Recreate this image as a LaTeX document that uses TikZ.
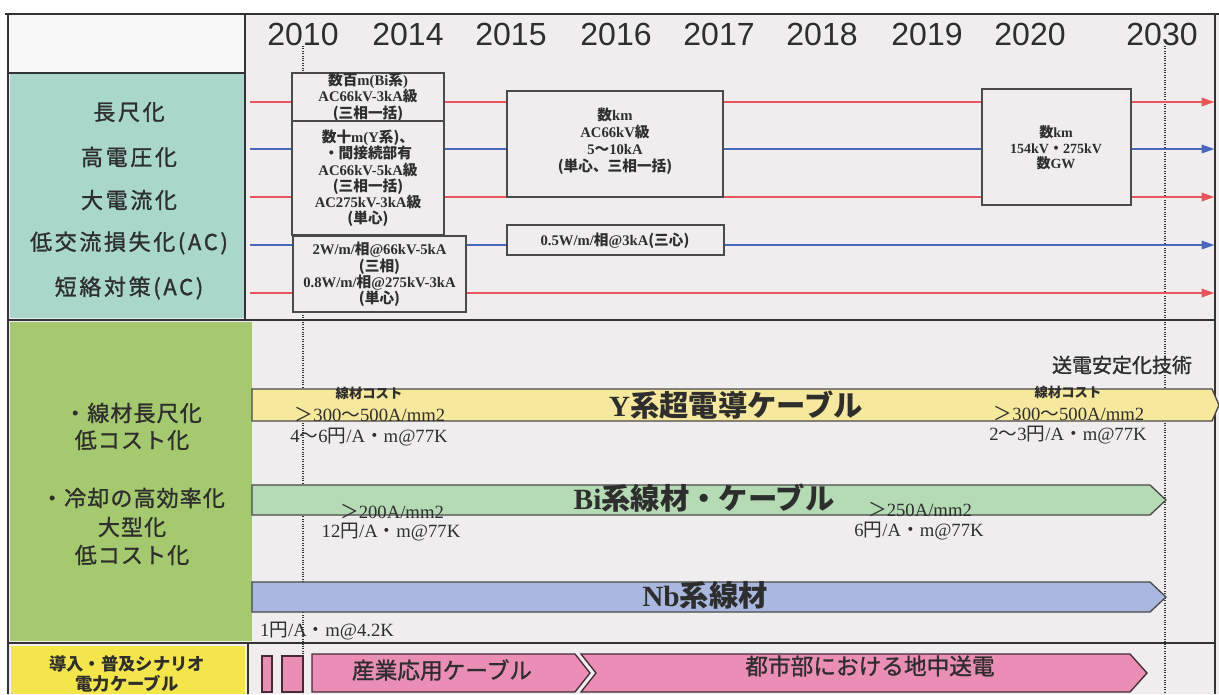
\documentclass[tikz,border=0pt]{standalone}
\usepackage{fontspec}
\setmainfont{Liberation Serif}
\newfontfamily\cjk{Noto Sans CJK JP}
\newfontfamily\cjkls[LetterSpace=12,FakeBold=1.2]{Noto Sans CJK JP}
\newfontfamily\cjkgr[LetterSpace=5,FakeBold=1.2]{Noto Sans CJK JP}
\newfontfamily\cjkmb[FakeBold=1.2]{Noto Sans CJK JP}
\newfontfamily\yrfont{Liberation Sans}
\usetikzlibrary{arrows.meta}
\newcommand\J[1]{{\cjk #1}}
\definecolor{bgc}{HTML}{EFEDED}
\definecolor{tealc}{HTML}{A9D7CB}
\definecolor{lgreen}{HTML}{A5C96E}
\definecolor{yelc}{HTML}{F4E64A}
\definecolor{ybandc}{HTML}{F6E89C}
\definecolor{gbandc}{HTML}{B5DBB5}
\definecolor{bbandc}{HTML}{A9B8DF}
\definecolor{pinkc}{HTML}{EA8EB5}
\definecolor{redl}{HTML}{E8555A}
\definecolor{bluel}{HTML}{4868BE}
\definecolor{framec}{HTML}{333333}
\definecolor{boxl}{HTML}{4A4A4A}
\definecolor{txt}{HTML}{2E2E2E}
\begin{document}
\begin{tikzpicture}[x=0.75pt,y=-0.75pt,
  frame/.style={draw=framec,line width=1pt},
  dotline/.style={draw=framec,line width=0.8pt,densely dotted},
  tl/.style={line width=2.2pt,-{Triangle[length=10pt,width=6pt]}},
  box/.style={draw=boxl,fill=bgc,line width=1pt},
  boxtxt/.style={align=center,inner sep=0pt,text=txt,font=\bfseries\fontsize{11}{12.2}\selectfont},
  lbl/.style={inner sep=0pt,text=txt,font=\cjkls\fontsize{16.5}{18}\selectfont},
  glbl/.style={inner sep=0pt,text=txt,font=\cjkgr\fontsize{16.5}{18}\selectfont},
  yr/.style={inner sep=0pt,text=txt,font=\yrfont\fontsize{24}{26}\selectfont},
  band/.style={draw=boxl,line width=1pt},
  bandtxt/.style={inner sep=0pt,text=txt,font=\bfseries\fontsize{22}{24}\selectfont},
  small/.style={inner sep=0pt,text=txt,font=\fontsize{14}{16}\selectfont},
  cost/.style={inner sep=0pt,text=txt,font=\cjk\bfseries\fontsize{10}{12}\selectfont},
  pinkbar/.style={draw=black!70!pinkc,fill=pinkc,line width=1pt},
  pinktxt/.style={inner sep=0pt,text=txt,font=\cjkmb\fontsize{17}{19}\selectfont}
]
\useasboundingbox (0,0) rectangle (1219,694);
\fill[white] (0,0) rectangle (1219,694);
\fill[bgc] (8,14) rectangle (1219,694);

% dotted year markers
\coordinate (d1a) at (303,46); \coordinate (d1b) at (303,694);
\coordinate (d2a) at (1165,46); \coordinate (d2b) at (1165,694);
\draw[dotline] (d1a) -- (d1b);
\draw[dotline] (d2a) -- (d2b);

% left column panels
\fill[white!60!bgc] (8,14) rectangle (245,73);
\fill[tealc] (10,74) rectangle (244,318);
\fill[lgreen] (10,322) rectangle (252,641);
\fill[yelc] (11,646) rectangle (245,694);

% frame lines
\draw[frame] (8,73) -- (245,73);
\draw[frame,line width=2pt] (5,14) -- (1219,14);
\draw[frame,line width=1.5pt] (8,14) -- (8,694);
\draw[frame,line width=1.5pt] (245,14) -- (245,320);
\draw[frame,line width=2pt] (8,320) -- (1215,320);
\draw[frame] (1215,14) -- (1215,694);
\draw[frame] (8,643) -- (1215,643);
\draw[frame] (248,643) -- (248,694);

% years
\node[yr] (y2010) at (303,34) {2010};
\node[yr] (y2014) at (408,34) {2014};
\node[yr] (y2015) at (511,34) {2015};
\node[yr] (y2016) at (616,34) {2016};
\node[yr] (y2017) at (719,34) {2017};
\node[yr] (y2018) at (822,34) {2018};
\node[yr] (y2019) at (927,34) {2019};
\node[yr] (y2020) at (1030,34) {2020};
\node[yr] (y2030) at (1162,34) {2030};

% teal labels
\node[lbl] (l1) at (129,112) {長尺化};
\node[lbl] (l2) at (129,157) {高電圧化};
\node[lbl] (l3) at (129,200) {大電流化};
\node[lbl] (l4) at (129,243) {低交流損失化(AC)};
\node[lbl] (l5) at (129,288) {短絡対策(AC)};

% timeline arrows
\coordinate (s1) at (250,102); \coordinate (e1) at (1215,102);
\coordinate (s2) at (250,149); \coordinate (e2) at (1215,149);
\coordinate (s3) at (250,197); \coordinate (e3) at (1215,197);
\coordinate (s4) at (250,245); \coordinate (e4) at (1215,245);
\coordinate (s5) at (250,293); \coordinate (e5) at (1215,293);
\draw[tl,redl] (s1) -- (e1);
\draw[tl,bluel] (s2) -- (e2);
\draw[tl,redl] (s3) -- (e3);
\draw[tl,bluel] (s4) -- (e4);
\draw[tl,redl] (s5) -- (e5);

% boxes
\draw[box] (292,73) rectangle (444,121);
\node[boxtxt] (tA) at (368,97) {\J{数百}m(Bi\J{系})\\AC66kV-3kA\J{級}\\\J{(三相一括)}};
\draw[box] (292,121) rectangle (444,235);
\node[boxtxt] (tB) at (368,178.5) {\J{数十}m(Y\J{系)、}\\\J{・間接続部有}\\AC66kV-5kA\J{級}\\\J{(三相一括)}\\AC275kV-3kA\J{級}\\\J{(単心)}};
\draw[box] (293,236) rectangle (466,312);
\node[boxtxt] (tC) at (379.5,274.5) {2W/m/\J{相}@66kV-5kA\\\J{(三相)}\\0.8W/m/\J{相}@275kV-3kA\\\J{(単心)}};
\draw[box] (507,91) rectangle (723,197);
\node[boxtxt,font=\bfseries\fontsize{11}{12.8}\selectfont] (tD) at (615,141) {\J{数}km\\AC66kV\J{級}\\5\J{～}10kA\\\J{(単心、三相一括)}};
\draw[box] (507,225) rectangle (724,255);
\node[boxtxt] (tE) at (615,241) {0.5W/m/\J{相}@3kA\J{(三心)}};
\draw[box] (982,89) rectangle (1131,205);
\node[boxtxt,font=\bfseries\fontsize{10.5}{11.5}\selectfont] (tF) at (1056,148) {\J{数}km\\154kV\J{・}275kV\\\J{数}GW};

% green panel labels
\node[glbl] (g1) at (133,413) {・線材長尺化};
\node[glbl] (g2) at (132,440) {低コスト化};
\node[glbl] (g3) at (133,498) {・冷却の高効率化};
\node[glbl] (g4) at (132,527) {大型化};
\node[glbl] (g5) at (132,555) {低コスト化};

% bands
\draw[band,fill=ybandc] (252,389) -- (1212,389) -- (1219,405) -- (1212,421) -- (252,421) -- cycle;
\draw[band,fill=gbandc] (252,485) -- (1150,485) -- (1166,500) -- (1150,515) -- (252,515) -- cycle;
\draw[band,fill=bbandc] (252,582) -- (1150,582) -- (1166,597) -- (1150,612) -- (252,612) -- cycle;
\node[bandtxt] (bY) at (736,405) {Y\J{系超電導ケーブル}};
\node[bandtxt] (bB) at (704,498) {Bi\J{系線材・ケーブル}};
\node[bandtxt] (bN) at (705,595) {Nb\J{系線材}};

\node[inner sep=0pt,text=txt,font=\cjkmb\fontsize{15}{17}\selectfont] (stab) at (1122,365) {送電安定化技術};
\node[cost] (c1) at (369,393) {線材コスト};
\node[small] (c1a) at (370,414) {\J{＞}300\J{～}500A/mm2};
\node[small] (c1b) at (369,437) {4\J{～}6\J{円}/A\J{・}m@77K};
\node[cost] (c2) at (1068,392) {線材コスト};
\node[small] (c2a) at (1069,413) {\J{＞}300\J{～}500A/mm2};
\node[small] (c2b) at (1068,435) {2\J{～}3\J{円}/A\J{・}m@77K};
\node[small] (c3a) at (392,511) {\J{＞}200A/mm2};
\node[small] (c3b) at (391,532) {12\J{円}/A\J{・}m@77K};
\node[small] (c4a) at (920,509) {\J{＞}250A/mm2};
\node[small] (c4b) at (919,531) {6\J{円}/A\J{・}m@77K};
\node[small] (c5) at (327,631) {1\J{円}/A\J{・}m@4.2K};

% bottom row
\node[inner sep=0pt,text=txt,font=\cjk\bfseries\fontsize{13}{15}\selectfont] (sc1) at (127,664) {導入・普及シナリオ};
\node[inner sep=0pt,text=txt,font=\cjk\bfseries\fontsize{13}{15}\selectfont] (sc2) at (127,684) {電力ケーブル};
\draw[pinkbar] (262,656) rectangle (272,692);
\draw[pinkbar] (282,656) rectangle (303,692);
\draw[pinkbar] (312,654) -- (575,654) -- (590,673) -- (575,692) -- (312,692) -- cycle;
\draw[pinkbar] (581,654) -- (1130,654) -- (1147,673) -- (1130,692) -- (581,692) -- (596,673) -- cycle;
\node[pinktxt] (p1) at (442,670) {産業応用ケーブル};
\node[pinktxt] (p2) at (870,666) {都市部における地中送電};
\end{tikzpicture}
\end{document}
